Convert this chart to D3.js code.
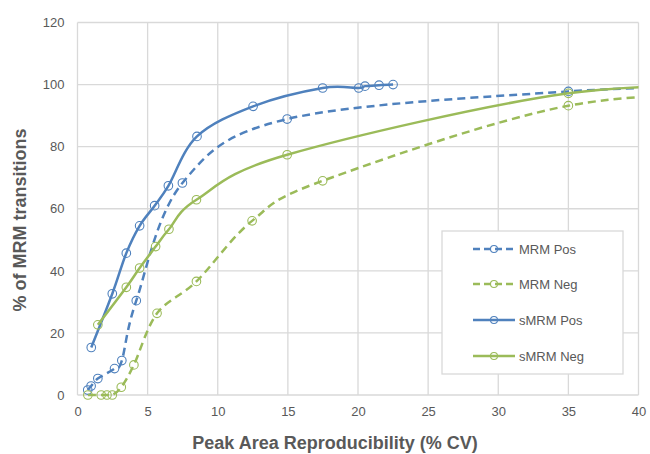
<!DOCTYPE html>
<html>
<head>
<meta charset="utf-8">
<script src="https://cdn.jsdelivr.net/npm/d3@7/dist/d3.min.js"></script>
<style>
  html, body { margin: 0; padding: 0; background: #fff; }
  svg { display: block; font-family: "Liberation Sans", Arial, sans-serif; }
</style>
</head>
<body>
<div id="chart"></div>
<script>
// ---- Data ----
const seriesNames = ["MRM Pos", "MRM Neg", "sMRM Pos", "sMRM Neg"];
const seriesColors = ["#4F81BD", "#9BBB59", "#4F81BD", "#9BBB59"];
const seriesDashed = [true, true, false, false];

const mrmPosX = [0.73, 0.97, 1.45, 2.64, 3.16, 4.19, 7.48, 14.95, 35, 50];
const mrmPosY = [1.6, 2.9, 5.3, 8.5, 11.1, 30.4, 68.3, 88.9, 97.8, 99.5];
const mrmPosMarked = [true, true, true, true, true, true, true, true, true, false];

const mrmNegX = [0.74, 1.69, 2.1, 2.48, 3.12, 4.02, 5.67, 8.48, 12.45, 17.48, 35, 50];
const mrmNegY = [0, 0, 0, 0, 2.5, 9.7, 26.3, 36.6, 56.1, 69.0, 93.2, 97.3];
const mrmNegMarked = [true, true, true, true, true, true, true, true, true, true, true, false];

const smrmPosX = [0.98, 2.48, 3.48, 4.43, 5.5, 6.48, 8.52, 12.52, 17.48, 20.05, 20.5, 21.5, 22.5];
const smrmPosY = [15.3, 32.6, 45.7, 54.5, 61.0, 67.4, 83.3, 93.0, 98.9, 98.9, 99.5, 99.8, 100];
const smrmPosMarked = smrmPosX.map(() => true);

const smrmNegX = [1.45, 3.48, 4.43, 5.57, 6.52, 8.48, 14.95, 35, 50];
const smrmNegY = [22.6, 34.7, 40.9, 47.8, 53.4, 62.9, 77.4, 97.2, 99.5];
const smrmNegMarked = [true, true, true, true, true, true, true, true, false];

const xTicks = [0, 5, 10, 15, 20, 25, 30, 35, 40];
const yTicks = [0, 20, 40, 60, 80, 100, 120];
const xTitle = "Peak Area Reproducibility (% CV)";
const yTitle = "% of MRM transitions";

const seriesX = [mrmPosX, mrmNegX, smrmPosX, smrmNegX];
const seriesY = [mrmPosY, mrmNegY, smrmPosY, smrmNegY];
const seriesMarked = [mrmPosMarked, mrmNegMarked, smrmPosMarked, smrmNegMarked];

// ---- Layout ----
const W = 650, H = 454;
const plot = { left: 77.5, right: 638.5, top: 22.5, bottom: 395 };

const svg = d3.select("#chart").append("svg").attr("width", W).attr("height", H);

const x = d3.scaleLinear().domain([0, 40]).range([plot.left, plot.right]);
const y = d3.scaleLinear().domain([0, 120]).range([plot.bottom, plot.top]);

const gridColor = "#d9d9d9";
const textColor = "#595959";

// gridlines
svg.append("g").selectAll("line.v").data(xTicks).join("line")
  .attr("x1", d => x(d)).attr("x2", d => x(d))
  .attr("y1", plot.top).attr("y2", plot.bottom)
  .attr("stroke", gridColor).attr("stroke-width", 1.3);
svg.append("g").selectAll("line.h").data(yTicks).join("line")
  .attr("x1", plot.left).attr("x2", plot.right)
  .attr("y1", d => y(d)).attr("y2", d => y(d))
  .attr("stroke", gridColor).attr("stroke-width", 1.3);

// axes (labels only, via d3 axes)
const xAxis = svg.append("g").attr("transform", `translate(0,${plot.bottom})`)
  .call(d3.axisBottom(x).tickValues(xTicks).tickSize(0).tickPadding(12));
const yAxis = svg.append("g").attr("transform", `translate(${plot.left},0)`)
  .call(d3.axisLeft(y).tickValues(yTicks).tickSize(0).tickPadding(13));
[xAxis, yAxis].forEach(g => {
  g.select(".domain").remove();
  g.selectAll("text").attr("fill", textColor).style("font-size", "13px")
    .style("font-family", "'Liberation Sans', Arial, sans-serif");
});

// axis titles
svg.append("text").attr("x", 335).attr("y", 449).attr("text-anchor", "middle")
  .attr("fill", textColor).style("font-size", "18px").style("font-weight", "bold")
  .text(xTitle);
svg.append("text").attr("transform", "translate(26,220) rotate(-90)").attr("text-anchor", "middle")
  .attr("fill", textColor).style("font-size", "18px").style("font-weight", "bold")
  .text(yTitle);

// clip
svg.append("clipPath").attr("id", "clip").append("rect")
  .attr("x", plot.left).attr("y", 0).attr("width", plot.right - plot.left).attr("height", plot.bottom + 10);

const line = d3.line().x(d => x(d[0])).y(d => y(d[1])).curve(d3.curveCardinal.tension(0));

const gSeries = svg.append("g").attr("clip-path", "url(#clip)");
seriesNames.forEach((name, i) => {
  const pts = seriesX[i].map((v, j) => [v, seriesY[i][j], seriesMarked[i][j]]);
  gSeries.append("path").datum(pts).attr("d", line)
    .attr("fill", "none").attr("stroke", seriesColors[i]).attr("stroke-width", 2.5)
    .attr("stroke-dasharray", seriesDashed[i] ? "8,5" : null)
    .attr("stroke-linejoin", "round");
  gSeries.append("g").selectAll("circle").data(pts.filter(p => p[2])).join("circle")
    .attr("cx", d => x(d[0])).attr("cy", d => y(d[1])).attr("r", 4.3)
    .attr("fill", "none").attr("stroke", seriesColors[i]).attr("stroke-width", 1.1);
});

// legend
const lg = svg.append("g");
lg.append("rect").attr("x", 442).attr("y", 231).attr("width", 181).attr("height", 143)
  .attr("fill", "#fff").attr("stroke", gridColor).attr("stroke-width", 1.3);
const legY = [249, 284, 320, 356];
seriesNames.forEach((name, i) => {
  const g = lg.append("g").attr("transform", `translate(0,${legY[i]})`);
  g.append("line").attr("x1", 473).attr("x2", 515).attr("y1", 0).attr("y2", 0)
    .attr("stroke", seriesColors[i]).attr("stroke-width", 2.5)
    .attr("stroke-dasharray", seriesDashed[i] ? "7,4" : null);
  g.append("circle").attr("cx", 494).attr("cy", 0).attr("r", 3.5)
    .attr("fill", "none").attr("stroke", seriesColors[i]).attr("stroke-width", 1.1);
  g.append("text").attr("x", 519).attr("y", 0).attr("dy", "0.35em")
    .attr("fill", textColor).style("font-size", "13px").text(name);
});
</script>
</body>
</html>
